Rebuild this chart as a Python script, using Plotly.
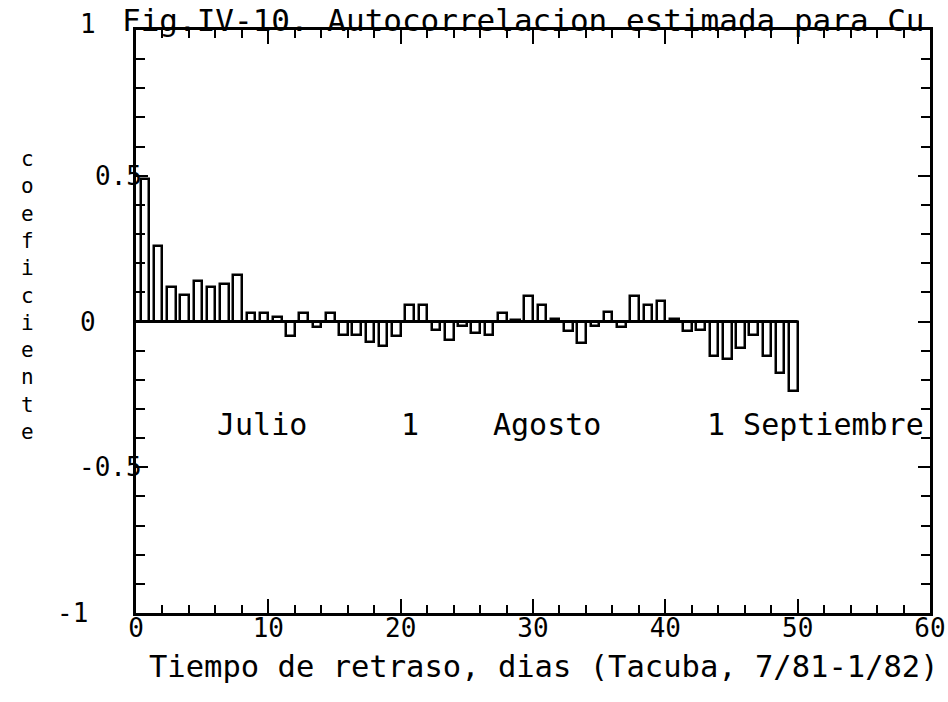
import plotly.graph_objects as go

# Estimated autocorrelation by lag (days)
lags = list(range(1, 51))
acf = [
    0.49, 0.26, 0.12, 0.09, 0.14, 0.12, 0.13, 0.16, 0.03, 0.03,
    0.015, -0.05, 0.03, -0.02, 0.03, -0.045, -0.045, -0.07, -0.085, -0.05,
    0.057, 0.057, -0.03, -0.065, -0.015, -0.04, -0.046, 0.03, 0.005, 0.087,
    0.058, 0.01, -0.034, -0.075, -0.016, 0.031, -0.018, 0.087, 0.057, 0.07,
    0.01, -0.034, -0.03, -0.12, -0.13, -0.09, -0.046, -0.118, -0.177, -0.24,
]

x_tick_vals = [0, 10, 20, 30, 40, 50, 60]
x_tick_text = ["0", "10", "20", "30", "40", "50", "60"]
y_tick_vals = [1, 0.5, 0, -0.5, -1]
y_tick_text = ["1", "0.5", "0", "-0.5", "-1"]

# month markers written inside the plot (lag position, label)
month_lags = [6.0, 19.9, 26.8, 43.0]
month_text = ["Julio", "1", "Agosto", "1 Septiembre"]

title_text = "Fig.IV-10. Autocorrelacion estimada para Cu"
x_title = "Tiempo de retraso, dias (Tacuba, 7/81-1/82)"
y_title = "coeficiente"

FONT = "DejaVu Sans Mono"
W, H = 948, 702
L, R, T, B = 136, 18, 30, 89
plot_w = W - L - R
plot_h = H - T - B

fig = go.Figure()

fig.add_trace(go.Bar(
    x=lags, y=acf,
    width=0.65, offset=-0.65,
    marker=dict(color="white", line=dict(color="black", width=2.5)),
    showlegend=False,
))

# zero baseline under the bars
fig.add_trace(go.Scatter(
    x=[0, lags[-1]], y=[0, 0], mode="lines",
    line=dict(color="black", width=3), showlegend=False,
))

fig.update_xaxes(
    range=[0, 60], showgrid=False, zeroline=False, automargin=False,
    showline=True, linecolor="black", linewidth=3, mirror="ticks",
    ticks="inside", ticklen=14, tickwidth=2, tickcolor="black",
    tickvals=x_tick_vals, ticktext=x_tick_text, ticklabelstandoff=-10,
    ticklabeloverflow="allow",
    tickfont=dict(family=FONT, size=26, color="black"),
    minor=dict(dtick=2, ticks="inside", ticklen=8, tickwidth=2, tickcolor="black"),
)
fig.update_yaxes(
    range=[-1, 1], showgrid=False, zeroline=False, automargin=False,
    showline=True, linecolor="black", linewidth=3, mirror="ticks",
    ticks="inside", ticklen=12, tickwidth=2, tickcolor="black",
    tickvals=y_tick_vals, showticklabels=False,
    minor=dict(dtick=0.1, ticks="inside", ticklen=9, tickwidth=2, tickcolor="black"),
)

annotations = []
# y tick labels, placed left of the axis
label_px = [88, 118, 88, 110, 72]
label_dy = [-6, 0, 0, 0, 0]
for v, t, px, dy in zip(y_tick_vals, y_tick_text, label_px, label_dy):
    annotations.append(dict(
        x=(px - L) / plot_w, xref="paper", y=v, yref="y", yshift=-dy,
        text=t, showarrow=False, xanchor="center", yanchor="middle",
        font=dict(family=FONT, size=26, color="black"),
    ))
# stacked vertical y title
annotations.append(dict(
    x=(27 - L) / plot_w, xref="paper", y=0.09, yref="y",
    text="<br>".join(y_title), showarrow=False,
    xanchor="center", yanchor="middle", align="center",
    font=dict(family=FONT, size=21, color="black"),
))
# month labels
for lx, t in zip(month_lags, month_text):
    annotations.append(dict(
        x=lx, xref="x", y=-0.355, yref="y", text=t, showarrow=False,
        xanchor="left", yanchor="middle",
        font=dict(family=FONT, size=30, color="black"),
    ))
# x axis title
annotations.append(dict(
    x=(544 - L) / plot_w, xref="paper", y=-(666 - T - plot_h) / plot_h, yref="paper",
    text=x_title, showarrow=False, xanchor="center", yanchor="middle",
    font=dict(family=FONT, size=30.5, color="black"),
))
# figure title along the top edge
annotations.append(dict(
    x=(120 - L) / plot_w, xref="paper", y=1 + T / plot_h, yref="paper",
    text=title_text, showarrow=False, xanchor="left", yanchor="top",
    font=dict(family=FONT, size=31, color="black"),
))

fig.update_layout(
    width=W, height=H,
    margin=dict(l=L, r=R, t=T, b=B, autoexpand=False),
    paper_bgcolor="white", plot_bgcolor="white",
    annotations=annotations,
    bargap=0,
)

fig.write_html("out.html")
